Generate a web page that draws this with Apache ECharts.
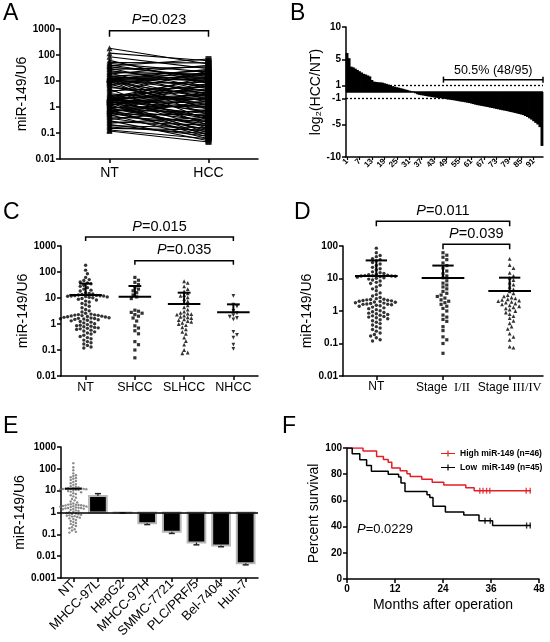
<!DOCTYPE html>
<html><head><meta charset="utf-8">
<script src="https://cdn.jsdelivr.net/npm/echarts@6/dist/echarts.min.js"></script>
<style>html,body{margin:0;padding:0;background:#fff}#c{width:550px;height:642px}</style>
</head><body><div id="c"></div>
<script>
const FONT = 'Liberation Sans, Arial, Helvetica, sans-serif';
const RED = '#e31e24';

// ---------- Data ----------
// Normal tissue (NT) miR-149/U6
const NT = [182,118,86,62,51,47,41,38,35,31,
  28,25,22,20,18.5,16,15,14.2,13.6,13,
  12.6,12.3,12.1,12,11.9,11.7,11.4,11,10.6,10.2,
  9.6,9,8.4,7.6,7,6.2,5.5,4.8,4.2,3.6,
  3.2,2.9,2.6,2.4,2.3,2.25,2.2,2.15,2.1,2.05,
  2.0,1.95,1.9,1.85,1.8,1.75,1.7,1.65,1.62,1.6,
  1.55,1.5,1.45,1.4,1.32,1.25,1.18,1.1,1.02,0.95,
  0.9,0.86,0.82,0.78,0.74,0.71,0.68,0.65,0.62,0.58,
  0.54,0.5,0.45,0.41,0.37,0.33,0.3,0.27,0.24,0.21,
  0.19,0.17,0.15,0.13,0.12];
// Paired HCC values
const HCC = [45,60,30,8,50,22,12,70,15,5,
  35,9,18,3,40,6,25,10,2,14,
  0.8,20,11,4,1.5,28,0.5,16,7,0.3,
  13,2.5,9,0.9,19,1.2,3.5,0.2,6,24,
  1.8,0.6,5,12,0.15,2.2,0.4,8,1,3,
  0.7,15,0.25,4.5,1.4,0.1,2,6.5,0.35,11,
  0.9,1.6,0.08,3.2,0.55,2.8,0.12,7.5,0.45,1.1,
  0.18,0.3,4,0.07,0.65,1.3,0.22,0.09,2.4,0.14,
  0.5,0.06,1.7,0.28,0.11,0.8,0.05,0.2,0.4,0.075,
  0.16,0.095,0.13,0.06,0.045];
const A_CATS = ['NT', 'HCC'];

// B: log2(HCC/NT), sorted
const B_RATIO = [6.0,5.2,3.9,3.8,3.6,3.4,3.2,3.0,2.8,2.7,
  2.55,2.4,1.85,1.6,1.55,1.5,1.48,1.45,1.35,1.25,
  1.15,1.05,0.9,0.82,0.74,0.66,0.58,0.5,0.4,0.32,
  0.22,0.14,0.06,-0.2,-0.35,-0.45,-0.5,-0.55,-0.62,-0.68,
  -0.72,-0.78,-0.84,-0.88,-0.93,-0.96,-0.99,-1.05,-1.1,-1.16,
  -1.2,-1.25,-1.3,-1.36,-1.42,-1.48,-1.52,-1.58,-1.64,-1.7,
  -1.78,-1.86,-1.95,-2.02,-2.08,-2.14,-2.2,-2.26,-2.32,-2.4,
  -2.46,-2.52,-2.6,-2.66,-2.74,-2.8,-2.86,-2.92,-3.0,-3.08,
  -3.14,-3.22,-3.3,-3.38,-3.46,-3.55,-3.7,-3.85,-4.05,-4.25,
  -4.5,-4.75,-5.0,-5.4,-8.3];
const B_Y_TICKS = [10, 5, 1, -1, -5, -10];

// C
const C_CATS = ['NT', 'SHCC', 'SLHCC', 'NHCC'];
const SHCC = [62,48,40,33,26,22,19,16,13,11,9.5,3.4,3.1,2.8,2.6,2.3,2.0,1.7,1.3,0.85,0.7,0.55,0.42,0.21,0.16,0.1,0.05];
const SLHCC = [44,38,28,22,18,15,13,12,10.5,9,7.5,6.5,5.2,4.4,3.6,3.0,2.7,2.5,2.4,2.3,2.1,1.9,1.8,1.7,1.5,1.4,1.3,1.2,1.1,1.0,0.9,0.75,0.62,0.5,0.42,0.3,0.22,0.16,0.1,0.08,0.075];
const NHCC = [12,5.6,4.8,3.2,2.6,2.2,1.9,1.7,1.5,0.5,0.38,0.3,0.16,0.11];
const C_MEAN = [13, 11.2, 5.9, 2.8];
const C_UPPER = [36, 29, 16, 5.7];

// D
const D_CATS = ['NT', 'Stage  {r|I/II}', 'Stage {r|III/IV}'];
const STAGE_I_II = [62,52,45,38,30,25,21,17,14,12,10.5,8.5,7.2,6.3,5.5,4.8,4,3.5,3.1,2.8,2.5,2.2,2.0,1.8,1.6,1.4,1.2,1.0,0.75,0.65,0.55,0.48,0.33,0.25,0.16,0.13,0.1,0.05];
const STAGE_III_IV = [40,26,21,15,12,10.5,9,7.5,6.5,5.5,4.6,4,3.5,3.1,2.8,2.6,2.45,2.3,2.2,2.1,2.0,1.9,1.8,1.7,1.6,1.5,1.4,1.3,1.2,1.1,1.0,0.9,0.8,0.7,0.6,0.5,0.42,0.33,0.28,0.2,0.16,0.13,0.08,0.075];
const D_MEAN = [12, 10.4, 4.1];
const D_UPPER = [36, 25, 10.6];

// E
const E_CATS = ['NT','MHCC-97L','HepG2','MHCC-97H','SMMC-7721','PLC/PRF/5','Bel-7404','Huh-7'];
const CELL_VALUE = [5.7, 1.0, 0.32, 0.13, 0.042, 0.031, 0.0047];
const CELL_ERR = [7.3, 0.95, 0.28, 0.11, 0.033, 0.027, 0.004];
const E_NT_MEAN = 12.3;

// F: Kaplan-Meier
const HIGH_T = [0,4.0,7.4,9.1,10.3,11.2,13.3,15.0,15.8,18.7,21.3,24.2,29.7,31.8,46];
const HIGH_S = [100,97.8,93.5,91.3,89.1,84.8,82.6,80.4,78.3,76.1,73.9,71.7,69.6,67.4,67.4];
const LOW_T = [0,1.3,3.2,4.9,6.1,10.3,12.9,13.5,14.5,20.0,20.7,21.5,24.6,29.2,33.0,36.4,46];
const LOW_S = [100,95.6,91.1,86.7,82.2,80.0,77.8,73.3,66.7,64.4,62.2,55.6,51.1,48.9,44.4,40.8,40.8];
const HIGH_CENSOR_T = [33.2,34.0,34.9,35.7,44.8,45.8];
const HIGH_CENSOR_S = [67.4,67.4,67.4,67.4,67.4,67.4];
const LOW_CENSOR_T = [34.5,35.8,44.9,45.8];
const LOW_CENSOR_S = [44.4,44.4,40.8,40.8];
const F_LEGEND = ['High miR-149 (n=46)', 'Low  miR-149 (n=45)'];

// ---------- helpers ----------
function fmtLog(v) { return v >= 1 ? String(Math.round(v)) : String(parseFloat(v.toPrecision(1))); }
const AXLINE = {show: true, onZero: false, lineStyle: {color: '#000', width: 1.5}};
const AXTICK = {show: true, length: 4, lineStyle: {color: '#000', width: 1.5}};
const TICKLAB = {fontFamily: FONT, fontSize: 10, fontWeight: 'bold', color: '#000', margin: 5};
function logY(grid, min, max, split, name, gap) {
  return {type: 'log', logBase: 10, gridIndex: grid, min: min, max: max, splitNumber: split,
    name: name, nameLocation: 'middle', nameGap: gap, nameRotate: 90,
    nameTextStyle: {fontFamily: FONT, fontSize: 14, color: '#000'},
    axisLine: AXLINE, axisTick: AXTICK, axisLabel: Object.assign({formatter: fmtLog}, TICKLAB),
    splitLine: {show: false}, minorTick: {show: false}};
}
function catX(grid, data, fontSize, margin, extra) {
  return Object.assign({type: 'category', gridIndex: grid, data: data,
    axisLine: AXLINE, axisTick: Object.assign({alignWithLabel: true}, AXTICK),
    axisLabel: {fontFamily: FONT, fontSize: fontSize, color: '#000', margin: margin, interval: 0},
    splitLine: {show: false}}, extra || {});
}
// beeswarm layout: horizontal offsets (px) so that symbols of diameter d do not overlap
function swarm(values, cat, pxPerDecade, d, step) {
  const sorted = values.slice().sort(function (a, b) { return b - a; });
  const placed = [];
  const out = [];
  sorted.forEach(function (v) {
    const y = Math.log10(v) * pxPerDecade;
    let x = 0;
    for (let n = 0; n < 400; n++) {
      x = n === 0 ? 0 : (n % 2 === 1 ? 1 : -1) * Math.ceil(n / 2) * step;
      let ok = true;
      for (let k = 0; k < placed.length; k++) {
        const dx = placed[k][0] - x, dy = placed[k][1] - y;
        if (dx * dx + dy * dy < d * d) { ok = false; break; }
      }
      if (ok) break;
    }
    placed.push([x, y]);
    out.push({value: [cat, v], symbolOffset: [x, 0]});
  });
  return out;
}
function meanRender(halfFrac, capFrac, lw) {
  return function (params, api) {
    const c = api.value(0), m = api.value(1), u = api.value(2);
    const pm = api.coord([c, m]), pu = api.coord([c, u]);
    const bw = api.size([1, 1])[0];
    const hw = bw * halfFrac, cw = bw * capFrac;
    const st = {stroke: '#000', lineWidth: lw};
    const ch = [{type: 'line', shape: {x1: pm[0] - hw, y1: pm[1], x2: pm[0] + hw, y2: pm[1]}, style: st}];
    if (u !== m) {
      ch.push({type: 'line', shape: {x1: pm[0], y1: pm[1], x2: pu[0], y2: pu[1]}, style: st});
      ch.push({type: 'line', shape: {x1: pu[0] - cw, y1: pu[1], x2: pu[0] + cw, y2: pu[1]}, style: st});
    }
    return {type: 'group', children: ch};
  };
}
function bracketRender(texts, tick, fontSize, ibeam, edge) {
  return function (params, api) {
    const y = api.value(2);
    const p1 = api.coord([api.value(0), y]), p2 = api.coord([api.value(1), y]);
    let x1 = p1[0], x2 = p2[0];
    if (edge) { const bw = api.size([1, 1])[0]; x1 -= bw / 2; x2 += bw / 2; }
    const yy = p1[1];
    const st = {stroke: '#000', lineWidth: 1.5, fill: null};
    const ch = [];
    if (ibeam) {
      ch.push({type: 'line', shape: {x1: x1, y1: yy, x2: x2, y2: yy}, style: st});
      ch.push({type: 'line', shape: {x1: x1, y1: yy - tick, x2: x1, y2: yy + tick}, style: st});
      ch.push({type: 'line', shape: {x1: x2, y1: yy - tick, x2: x2, y2: yy + tick}, style: st});
    } else {
      ch.push({type: 'polyline', shape: {points: [[x1, yy + tick], [x1, yy], [x2, yy], [x2, yy + tick]]}, style: st});
    }
    ch.push({type: 'text', x: (x1 + x2) / 2, y: yy - 3, style: {
      text: texts[params.dataIndex], fill: '#000', fontFamily: FONT, fontSize: fontSize,
      align: 'center', verticalAlign: 'bottom',
      rich: {i: {fontStyle: 'italic', fontFamily: FONT, fontSize: fontSize, fill: '#000'}}}});
    return {type: 'group', children: ch};
  };
}
function pairRender(params, api) {
  const a = api.coord([0, api.value(1)]);
  const b = api.coord([1, api.value(2)]);
  return {type: 'line', shape: {x1: a[0], y1: a[1], x2: b[0], y2: b[1]}, style: {stroke: '#000', lineWidth: 1.1}};
}
function waterfallRender(params, api) {
  const i = api.value(0), v = api.value(1);
  const p0 = api.coord([i, 0]), p1 = api.coord([i, v]);
  const bw = api.size([1, 1])[0];
  return {type: 'rect', shape: {x: p0[0] - bw / 2 - 0.4, y: Math.min(p0[1], p1[1]), width: bw + 0.8,
    height: Math.abs(p1[1] - p0[1])}, style: {fill: '#000'}};
}
function cellBarRender(params, api) {
  const c = api.value(0), v = api.value(1), e = api.value(2);
  const base = api.coord([c, 1]), top = api.coord([c, v]), err = api.coord([c, e]);
  const bw = api.size([1, 1])[0] * 0.72;
  const y0 = Math.min(base[1], top[1]), h = Math.abs(base[1] - top[1]);
  return {type: 'group', children: [
    {type: 'rect', shape: {x: base[0] - bw / 2, y: y0, width: bw, height: Math.max(h, 0.5)},
      style: {fill: '#000', stroke: '#b8b8b8', lineWidth: 2}},
    {type: 'line', shape: {x1: err[0], y1: top[1], x2: err[0], y2: err[1]}, style: {stroke: '#222', lineWidth: 1.2}},
    {type: 'line', shape: {x1: err[0] - 3, y1: err[1], x2: err[0] + 3, y2: err[1]}, style: {stroke: '#222', lineWidth: 1.5}}
  ]};
}
function pct(t, s) { return t.map(function (x, i) { return [x, s[i]]; }); }

const B_RANKS = B_RATIO.map(function (v, i) { return String(i + 1); });
const KM_ICON = 'path://M0,2.4h14v1.2h-14z M6.4,0h1.2v6h-1.2z';

const chart = echarts.init(document.getElementById('c'), null, {renderer: 'canvas'});
const option = {
  animation: false,
  backgroundColor: '#fff',
  textStyle: {fontFamily: FONT},
  grid: [
    {left: 60, top: 29, width: 198, height: 130, outerBoundsMode: 'none'},
    {left: 346, top: 27, width: 197, height: 130, outerBoundsMode: 'none'},
    {left: 61, top: 246, width: 197, height: 130, outerBoundsMode: 'none'},
    {left: 343, top: 246, width: 200, height: 130, outerBoundsMode: 'none'},
    {left: 61, top: 447, width: 197, height: 131, outerBoundsMode: 'none'},
    {left: 347, top: 448, width: 192, height: 131, outerBoundsMode: 'none'}
  ],
  xAxis: [
    catX(0, A_CATS, 14, 7),
    catX(1, B_RANKS, 8, 3, {
      axisTick: {show: true, interval: 5, alignWithLabel: true, length: 3, lineStyle: {color: '#000', width: 1.2}},
      axisLabel: {interval: 5, rotate: 45, fontFamily: FONT, fontSize: 8, fontWeight: 'bold', color: '#000', margin: 3}
    }),
    catX(2, C_CATS, 12.5, 5),
    catX(3, D_CATS, 12, 5, {axisLabel: {interval: 0, fontFamily: FONT, fontSize: 12, color: '#000', margin: 5,
      rich: {r: {fontFamily: 'Liberation Serif, DejaVu Serif, serif', fontSize: 12.5, color: '#000'}}}}),
    catX(4, E_CATS, 12, 4, {axisLabel: {interval: 0, rotate: 45, fontFamily: FONT, fontSize: 13, color: '#000', margin: 4}}),
    {type: 'value', gridIndex: 5, min: 0, max: 48, interval: 12,
      name: 'Months after operation', nameLocation: 'middle', nameGap: 19,
      nameTextStyle: {fontFamily: FONT, fontSize: 14, color: '#000'},
      axisLine: AXLINE, axisTick: AXTICK, axisLabel: TICKLAB, splitLine: {show: false}}
  ],
  yAxis: [
    logY(0, 0.01, 1000, 5, 'miR-149/U6', 22),
    {type: 'value', gridIndex: 1, min: -10, max: 10,
      name: 'log\u2082(HCC/NT)', nameLocation: 'middle', nameGap: 19, nameRotate: 90,
      nameTextStyle: {fontFamily: FONT, fontSize: 14, color: '#000'},
      axisLine: AXLINE,
      axisTick: Object.assign({customValues: B_Y_TICKS}, AXTICK),
      axisLabel: Object.assign({customValues: B_Y_TICKS}, TICKLAB),
      splitLine: {show: false}},
    logY(2, 0.01, 1000, 5, 'miR-149/U6', 25),
    logY(3, 0.01, 100, 4, 'miR-149/U6', 24),
    logY(4, 0.001, 1000, 6, 'miR-149/U6', 24),
    {type: 'value', gridIndex: 5, min: 0, max: 100, interval: 20,
      name: 'Percent survival', nameLocation: 'middle', nameGap: 26, nameRotate: 90,
      nameTextStyle: {fontFamily: FONT, fontSize: 14, color: '#000'},
      axisLine: AXLINE, axisTick: AXTICK, axisLabel: TICKLAB, splitLine: {show: false}}
  ],
  legend: {
    orient: 'vertical', left: 436, top: 444, itemWidth: 14, itemHeight: 6, itemGap: 5,
    icon: KM_ICON,
    data: F_LEGEND,
    textStyle: {fontFamily: FONT, fontSize: 8.5, fontWeight: 'bold', color: '#000'}
  },
  graphic: [
    {type: 'text', x: 3, y: 14, style: {text: 'A', fontFamily: FONT, fontSize: 23, fill: '#000', verticalAlign: 'middle'}},
    {type: 'text', x: 290, y: 14, style: {text: 'B', fontFamily: FONT, fontSize: 23, fill: '#000', verticalAlign: 'middle'}},
    {type: 'text', x: 3, y: 213, style: {text: 'C', fontFamily: FONT, fontSize: 23, fill: '#000', verticalAlign: 'middle'}},
    {type: 'text', x: 294, y: 213, style: {text: 'D', fontFamily: FONT, fontSize: 23, fill: '#000', verticalAlign: 'middle'}},
    {type: 'text', x: 3, y: 427, style: {text: 'E', fontFamily: FONT, fontSize: 23, fill: '#000', verticalAlign: 'middle'}},
    {type: 'text', x: 282, y: 427, style: {text: 'F', fontFamily: FONT, fontSize: 23, fill: '#000', verticalAlign: 'middle'}},
    {type: 'text', x: 357, y: 529, style: {text: '{i|P}=0.0229', fontFamily: FONT, fontSize: 13, fill: '#000', verticalAlign: 'middle',
      rich: {i: {fontStyle: 'italic', fontFamily: FONT, fontSize: 13, fill: '#000'}}}}
  ],
  series: [
    // ---- A ----
    {type: 'custom', xAxisIndex: 0, yAxisIndex: 0, renderItem: pairRender,
      encode: {x: 0, y: [1, 2]}, data: NT.map(function (v, i) { return [0, v, HCC[i]]; }), z: 2},
    {type: 'scatter', xAxisIndex: 0, yAxisIndex: 0, symbol: 'triangle', symbolSize: 6,
      itemStyle: {color: '#000'}, data: NT.map(function (v) { return [0, v]; }), z: 3},
    {type: 'scatter', xAxisIndex: 0, yAxisIndex: 0, symbol: 'rect', symbolSize: 6,
      itemStyle: {color: '#000'}, data: HCC.map(function (v) { return [1, v]; }), z: 3},
    {type: 'custom', xAxisIndex: 0, yAxisIndex: 0, renderItem: bracketRender(['{i|P}=0.023'], 6, 14.5, false, false),
      encode: {x: [0, 1], y: 2}, data: [[0, 1, 850]], z: 4},
    // ---- B ----
    {type: 'scatter', xAxisIndex: 1, yAxisIndex: 1, data: [], z: 1,
      markLine: {silent: true, symbol: 'none', z: 1, label: {show: false},
        lineStyle: {type: [2, 2], color: '#000', width: 1.3},
        data: [{yAxis: 1}, {yAxis: -1}]}},
    {type: 'custom', xAxisIndex: 1, yAxisIndex: 1, renderItem: waterfallRender,
      encode: {x: 0, y: 1}, data: B_RATIO.map(function (v, i) { return [i, v]; }), z: 6},
    {type: 'scatter', xAxisIndex: 1, yAxisIndex: 1, data: [], z: 8,
      markLine: {silent: true, symbol: 'none', z: 8, label: {show: false},
        lineStyle: {type: 'solid', color: '#000', width: 1.5}, data: [{yAxis: 0}]}},
    {type: 'custom', xAxisIndex: 1, yAxisIndex: 1, renderItem: bracketRender(['50.5% (48/95)'], 3, 12.5, true, true),
      encode: {x: [0, 1], y: 2}, data: [[47, 94, 1.9]], z: 9},
    // ---- C ----
    {type: 'scatter', xAxisIndex: 2, yAxisIndex: 2, symbol: 'circle', symbolSize: 3.4, itemStyle: {color: '#000'},
      data: swarm(NT, 0, 26, 3.6, 1.8), z: 3},
    {type: 'scatter', xAxisIndex: 2, yAxisIndex: 2, symbol: 'rect', symbolSize: 3.2, itemStyle: {color: '#000'},
      data: swarm(SHCC, 1, 26, 3.6, 1.8), z: 3},
    {type: 'scatter', xAxisIndex: 2, yAxisIndex: 2, symbol: 'triangle', symbolSize: 3.8, itemStyle: {color: '#000'},
      data: swarm(SLHCC, 2, 26, 3.6, 1.8), z: 3},
    {type: 'scatter', xAxisIndex: 2, yAxisIndex: 2, symbol: 'triangle', symbolRotate: 180, symbolSize: 3.8, itemStyle: {color: '#000'},
      data: swarm(NHCC, 3, 26, 3.6, 1.8), z: 3},
    {type: 'custom', xAxisIndex: 2, yAxisIndex: 2, renderItem: meanRender(0.33, 0.13, 2),
      encode: {x: 0, y: [1, 2]}, data: C_MEAN.map(function (m, i) { return [i, m, C_UPPER[i]]; }), z: 5},
    {type: 'custom', xAxisIndex: 2, yAxisIndex: 2, renderItem: bracketRender(['{i|P}=0.015', '{i|P}=0.035'], 4, 14.5, false, false),
      encode: {x: [0, 1], y: 2}, data: [[0, 3, 2200], [1, 3, 270]], z: 5},
    // ---- D ----
    {type: 'scatter', xAxisIndex: 3, yAxisIndex: 3, symbol: 'circle', symbolSize: 3.4, itemStyle: {color: '#000'},
      data: swarm(NT, 0, 32.5, 3.8, 1.9), z: 3},
    {type: 'scatter', xAxisIndex: 3, yAxisIndex: 3, symbol: 'rect', symbolSize: 3.2, itemStyle: {color: '#000'},
      data: swarm(STAGE_I_II, 1, 32.5, 3.8, 1.9), z: 3},
    {type: 'scatter', xAxisIndex: 3, yAxisIndex: 3, symbol: 'triangle', symbolSize: 3.8, itemStyle: {color: '#000'},
      data: swarm(STAGE_III_IV, 2, 32.5, 3.8, 1.9), z: 3},
    {type: 'custom', xAxisIndex: 3, yAxisIndex: 3, renderItem: meanRender(0.32, 0.16, 2),
      encode: {x: 0, y: [1, 2]}, data: D_MEAN.map(function (m, i) { return [i, m, D_UPPER[i]]; }), z: 5},
    {type: 'custom', xAxisIndex: 3, yAxisIndex: 3, renderItem: bracketRender(['{i|P}=0.011', '{i|P}=0.039'], 5, 14.5, false, false),
      encode: {x: [0, 1], y: 2}, data: [[0, 2, 575], [1, 2, 113]], z: 5},
    // ---- E ----
    {type: 'scatter', xAxisIndex: 4, yAxisIndex: 4, symbol: 'circle', symbolSize: 2.4, itemStyle: {color: '#6e6e6e'},
      data: swarm(NT, 0, 21.8, 2.6, 1.3), z: 3,
      markLine: {silent: true, symbol: 'none', label: {show: false}, lineStyle: {type: 'solid', color: '#000', width: 1.5},
        data: [{yAxis: 1}]}},
    {type: 'custom', xAxisIndex: 4, yAxisIndex: 4, renderItem: meanRender(0.34, 0.1, 2),
      encode: {x: 0, y: [1, 2]}, data: [[0, E_NT_MEAN, E_NT_MEAN]], z: 5},
    {type: 'custom', xAxisIndex: 4, yAxisIndex: 4, renderItem: cellBarRender,
      encode: {x: 0, y: [1, 2]}, data: CELL_VALUE.map(function (v, i) { return [i + 1, v, CELL_ERR[i]]; }), z: 4},
    // ---- F ----
    {type: 'line', name: F_LEGEND[0], xAxisIndex: 5, yAxisIndex: 5, step: 'end', data: pct(HIGH_T, HIGH_S),
      showSymbol: false, symbol: 'none', lineStyle: {color: RED, width: 1.5}, itemStyle: {color: RED}, z: 3},
    {type: 'line', name: F_LEGEND[1], xAxisIndex: 5, yAxisIndex: 5, step: 'end', data: pct(LOW_T, LOW_S),
      showSymbol: false, symbol: 'none', lineStyle: {color: '#000', width: 1.5}, itemStyle: {color: '#000'}, z: 3},
    {type: 'scatter', xAxisIndex: 5, yAxisIndex: 5, symbol: 'rect', symbolSize: [1.4, 6], itemStyle: {color: RED},
      data: pct(HIGH_CENSOR_T, HIGH_CENSOR_S), z: 4},
    {type: 'scatter', xAxisIndex: 5, yAxisIndex: 5, symbol: 'rect', symbolSize: [1.4, 6], itemStyle: {color: '#000'},
      data: pct(LOW_CENSOR_T, LOW_CENSOR_S), z: 4}
  ]
};
chart.setOption(option);
</script></body></html>
